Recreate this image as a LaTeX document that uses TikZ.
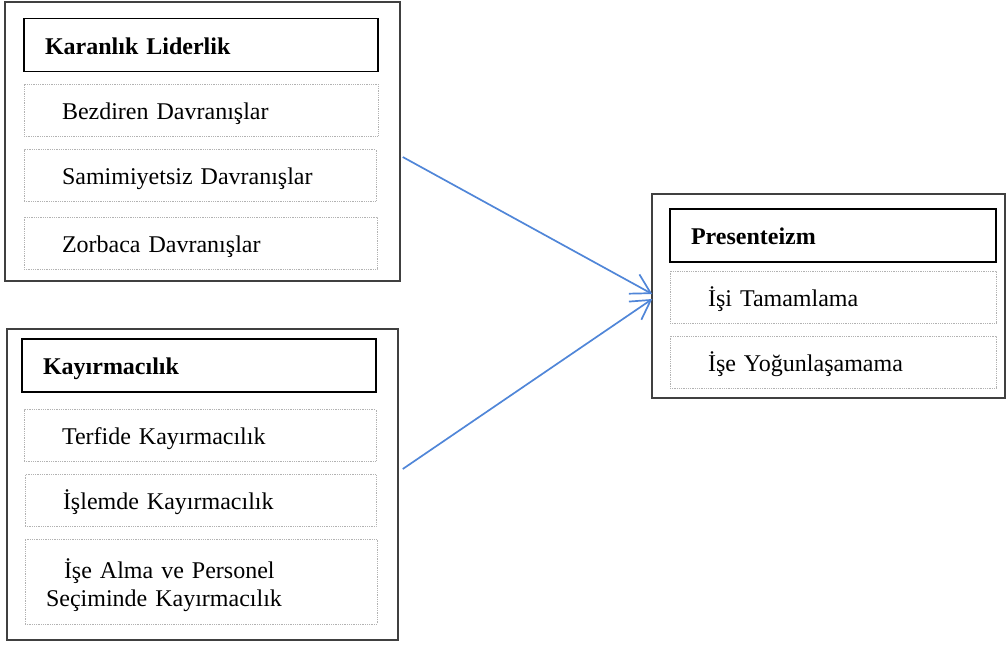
\documentclass[tikz,border=0pt]{standalone}
\usepackage{fontspec}
\setmainfont{Liberation Serif}
\usetikzlibrary{arrows.meta,calc}
\definecolor{linkblue}{RGB}{80,134,216}
\begin{document}
\begin{tikzpicture}[x=1pt, y=-1pt,
    outerbox/.style={draw=black!75, line width=1.5pt, minimum width=#1, inner sep=0pt},
    headbox/.style={draw=black, line width=1.3pt, minimum height=53pt, inner xsep=21pt, inner ysep=0pt,
        text width=#1-42pt, text height=22pt, text depth=4pt, align=left, font=\fontsize{24}{28}\selectfont\bfseries},
    subbox/.style={draw=black!30, densely dotted, line width=0.8pt, minimum height=52pt, inner xsep=38pt, inner ysep=0pt,
        text width=#1-76pt, text height=22pt, text depth=4pt, align=left, font=\fontsize{24}{28}\selectfont},
    link/.style={draw=linkblue, line width=1.7pt, -{Straight Barb[length=19pt, width=22pt, line width=1.7pt]}}]
    \useasboundingbox (0,0) rectangle (1006,646);
    \node [outerbox=395pt, minimum height=279pt] (outerA) at (202.5,141.5) {};
    \node [outerbox=391pt, minimum height=311pt] (outerB) at (202.5,484.5) {};
    \node [outerbox=353pt, minimum height=204pt] (outerC) at (828.5,296) {};
    \node [headbox=354pt] (karanlik) at (201,45) {Karanlık Liderlik};
    \node [subbox=354pt] (bezdiren) at (201,110) {Bezdiren Davranışlar};
    \node [subbox=352pt] (samimiyetsiz) at (200,175.5) {Samimiyetsiz Davranışlar};
    \node [subbox=353pt] (zorbaca) at (200.5,243) {Zorbaca Davranışlar};
    \node [headbox=354pt] (kayirmacilik) at (199,365.5) {Kayırmacılık};
    \node [subbox=352pt] (terfide) at (200,435.5) {Terfide Kayırmacılık};
    \node [subbox=351pt] (islemde) at (200.5,500.5) {İşlemde Kayırmacılık};
    \node [subbox=352pt, minimum height=85pt, inner xsep=21pt, text width=310pt, text height=20pt, text depth=27pt] (iseAlma) at (201,581.5)
        {\hspace*{18pt}İşe Alma ve Personel\\Seçiminde Kayırmacılık};
    \node [headbox=326pt] (presenteizm) at (833,235.5) {Presenteizm};
    \node [subbox=326pt] (isiTamamlama) at (833,297) {İşi Tamamlama};
    \node [subbox=326pt] (iseYogun) at (833,362) {İşe Yoğunlaşamama};
    \draw [link] ($(outerA.east)+(2,15.5)$) -- ($(outerC.west)+(1,-2)$);
    \draw [link] ($(outerB.east)+(4,-15.5)$) -- ($(outerC.west)+(1,3)$);
\end{tikzpicture}
\end{document}
